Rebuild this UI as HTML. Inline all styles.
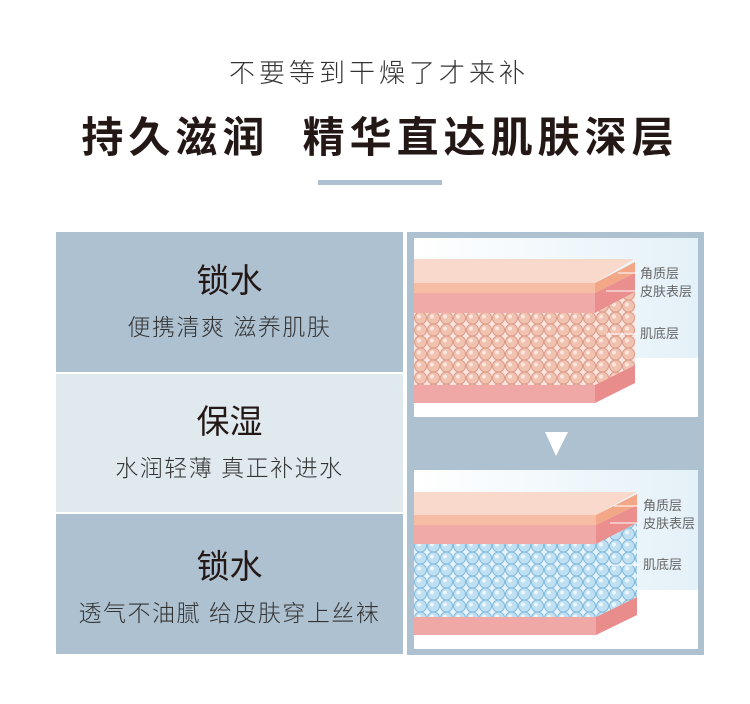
<!DOCTYPE html>
<html><head><meta charset="utf-8"><style>
body{margin:0;width:750px;height:704px;background:#fff;position:relative;overflow:hidden;font-family:"Liberation Sans","Noto Sans CJK SC",sans-serif;}
.a{position:absolute;}
.h1{left:4px;width:750px;top:53px;text-align:center;font-size:26px;color:#333;font-weight:300;letter-spacing:4px;}
.h2{left:5px;width:750px;top:104px;text-align:center;font-size:42px;color:#231815;font-weight:bold;letter-spacing:5px;}
.bar{left:318px;top:180px;width:124px;height:5px;background:#aec1d1;}
.row{left:56px;width:347px;text-align:center;color:#231815;}
.row .t{font-size:33px;line-height:38px;}
.row .s{font-size:23px;line-height:30px;color:#333;margin-top:12px;letter-spacing:1.5px;font-weight:300;}
</style></head><body>
<div class="a h1">不要等到干燥了才来补</div>
<div class="a h2">持久滋润&nbsp;&nbsp;精华直达肌肤深层</div>
<div class="a bar"></div>
<div class="a row" style="top:232px;height:140px;background:#aec1d1;"><div style="padding-top:30px"><div class="t">锁水</div><div class="s">便携清爽 滋养肌肤</div></div></div>
<div class="a row" style="top:374px;height:138px;background:#dfe9ee;"><div style="padding-top:29px"><div class="t">保湿</div><div class="s">水润轻薄 真正补进水</div></div></div>
<div class="a row" style="top:514px;height:140px;background:#aec1d1;"><div style="padding-top:34px"><div class="t">锁水</div><div class="s">透气不油腻 给皮肤穿上丝袜</div></div></div>
<svg class="a" style="left:407px;top:232px" width="297" height="423" viewBox="407 232 297 423">
<defs>
<pattern id="pc" x="414" y="0" width="13" height="12" patternUnits="userSpaceOnUse">
<rect width="13" height="12" fill="#fbe3de"/><circle cx="6.5" cy="6" r="6" fill="#f2c2b0" stroke="#d99a88" stroke-width="1"/><circle cx="5" cy="4.5" r="2" fill="#fff" opacity=".6"/></pattern>
<pattern id="bc" x="414" y="0" width="13" height="12" patternUnits="userSpaceOnUse">
<rect width="13" height="12" fill="#e6f3fb"/><circle cx="6.5" cy="6" r="6" fill="#bfe0f2" stroke="#7fb8da" stroke-width="1"/><circle cx="5" cy="4.5" r="2" fill="#fff" opacity=".7"/></pattern>
<linearGradient id="bg" x1="0" y1="0" x2="1" y2="0"><stop offset="0" stop-color="#fff"/><stop offset="1" stop-color="#e4f1f8"/></linearGradient>
</defs>
<rect x="407" y="232" width="297" height="423" fill="#aec1d1"/>
<g>
<rect x="414" y="238" width="284" height="179" fill="url(#bg)"/>
<rect x="414" y="358" width="284" height="59" fill="#fff"/>
<polygon points="414,259 634,259 595,283 414,283" fill="#f8d9cc"/>
<rect x="414" y="283" width="181" height="10" fill="#f6bda4"/>
<rect x="414" y="293" width="181" height="20" fill="#f0aaa8"/>
<rect x="414" y="313" width="181" height="72" fill="url(#pc)"/>
<rect x="414" y="385" width="181" height="18" fill="#f0a8a6"/>
<polygon points="595,283 635,262 635,273 595,293" fill="#f3a787"/>
<polygon points="595,293 635,273 635,292 595,313" fill="#ea8e8e"/>
<polygon points="595,313 635,292 635,365 595,385" fill="url(#pc)"/>
<polygon points="595,385 635,365 635,383 595,403" fill="#e88c8c"/>
</g>
<polygon points="545,432 568,432 556,456" fill="#fff"/>
<g>
<rect x="414" y="470" width="284" height="179" fill="url(#bg)"/>
<rect x="414" y="590" width="284" height="59" fill="#fff"/>
<polygon points="414,492 637,492 596,515 414,515" fill="#f8d9cc"/>
<rect x="414" y="515" width="182" height="10" fill="#f6bda4"/>
<rect x="414" y="525" width="182" height="19" fill="#f0aaa8"/>
<rect x="414" y="544" width="182" height="73" fill="url(#bc)"/>
<rect x="414" y="617" width="182" height="18" fill="#f0a8a6"/>
<polygon points="596,515 637,494 637,505 596,525" fill="#f3a787"/>
<polygon points="596,525 637,505 637,523 596,544" fill="#ea8e8e"/>
<polygon points="596,544 637,523 637,597 596,617" fill="url(#bc)"/>
<polygon points="596,617 637,597 637,615 596,635" fill="#e88c8c"/>
</g>
<g stroke="#fff" stroke-width="1">
<line x1="618" y1="273" x2="638" y2="273"/><line x1="606" y1="291" x2="638" y2="291"/><line x1="606" y1="334" x2="638" y2="334"/>
<line x1="614" y1="506" x2="640" y2="506"/><line x1="610" y1="523" x2="640" y2="523"/><line x1="610" y1="565" x2="640" y2="565"/>
</g>
<g font-family="Liberation Sans,Noto Sans CJK SC,sans-serif" font-size="13" fill="#666">
<text x="640" y="278">角质层</text><text x="640" y="296">皮肤表层</text><text x="640" y="338">肌底层</text>
<text x="643" y="510">角质层</text><text x="643" y="528">皮肤表层</text><text x="643" y="569">肌底层</text>
</g>
</svg>
</body></html>
